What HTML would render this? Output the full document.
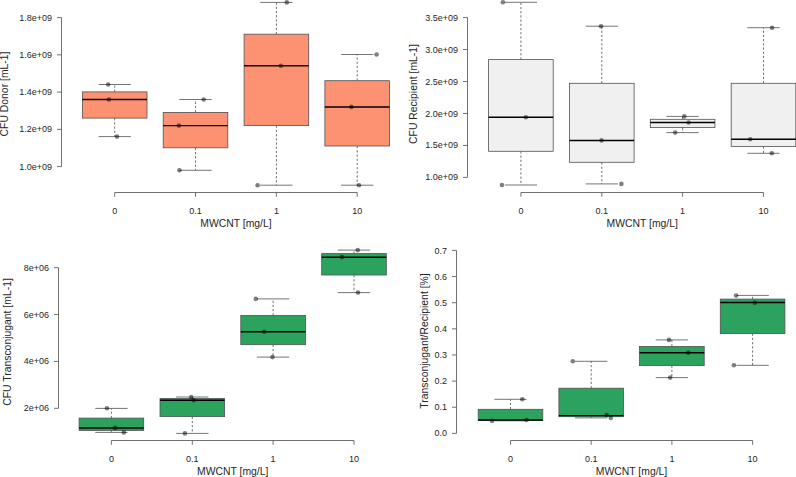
<!DOCTYPE html>
<html lang="en"><head><meta charset="utf-8"><title>MWCNT conjugation boxplots</title>
<style>
html,body{margin:0;padding:0;background:#fff;}
body{width:796px;height:477px;overflow:hidden;}
svg{display:block;}
text{font-family:"Liberation Sans", Arial, Helvetica, sans-serif;fill:#262626;}
.tk{font-size:9.0px;}
.lb{font-size:10.4px;}
.ax{stroke:#4e4e4e;stroke-width:.8;fill:none;}
.bx{stroke:#505050;stroke-width:.8;}
.wh{stroke:#505050;stroke-width:.8;stroke-dasharray:2.3 1.9;fill:none;}
.cap{stroke:#505050;stroke-width:.8;fill:none;}
.med{stroke:#000;stroke-width:1.45;fill:none;}
.pt{fill:#000;fill-opacity:.5;}
</style></head><body>
<svg width="796" height="477" viewBox="0 0 796 477">
<rect x="0" y="0" width="796" height="477" fill="#fff"/>
<g>
<path class="ax" d="M61.5 17.6V166.6M57 17.6H61.5M57 54.85H61.5M57 92.1H61.5M57 129.35H61.5M57 166.6H61.5"/>
<text class="tk" x="52.1" y="20.65" text-anchor="end">1.8e+09</text>
<text class="tk" x="52.1" y="57.9" text-anchor="end">1.6e+09</text>
<text class="tk" x="52.1" y="95.15" text-anchor="end">1.4e+09</text>
<text class="tk" x="52.1" y="132.4" text-anchor="end">1.2e+09</text>
<text class="tk" x="52.1" y="169.65" text-anchor="end">1.0e+09</text>
<path class="ax" d="M114.7 192.5H357.2M114.7 192.5V196.8M195.5 192.5V196.8M276.4 192.5V196.8M357.2 192.5V196.8"/>
<text class="tk" x="114.7" y="213.9" text-anchor="middle">0</text>
<text class="tk" x="195.5" y="213.9" text-anchor="middle">0.1</text>
<text class="tk" x="276.4" y="213.9" text-anchor="middle">1</text>
<text class="tk" x="357.2" y="213.9" text-anchor="middle">10</text>
<text class="lb" x="235.95" y="227.2" text-anchor="middle">MWCNT [mg/L]</text>
<text class="lb" transform="translate(8 94) rotate(-90)" text-anchor="middle">CFU Donor [mL-1]</text>
<path class="wh" d="M114.7 91.9V84.5M114.7 118.1V136.6"/>
<path class="cap" d="M98.55 84.5H130.85M98.55 136.6H130.85"/>
<rect class="bx" x="82.4" y="91.9" width="64.6" height="26.2" fill="#FC9272"/>
<path class="med" d="M82.4 99.5H147"/>
<path class="wh" d="M195.5 112.4V99.5M195.5 147.8V170.3"/>
<path class="cap" d="M179.35 99.5H211.65M179.35 170.3H211.65"/>
<rect class="bx" x="163.2" y="112.4" width="64.6" height="35.4" fill="#FC9272"/>
<path class="med" d="M163.2 125.6H227.8"/>
<path class="wh" d="M276.4 34.2V2.4M276.4 125.6V185.2"/>
<path class="cap" d="M260.25 2.4H292.55M260.25 185.2H292.55"/>
<rect class="bx" x="244.1" y="34.2" width="64.6" height="91.4" fill="#FC9272"/>
<path class="med" d="M244.1 65.8H308.7"/>
<path class="wh" d="M357.2 80.7V54.5M357.2 146V185.2"/>
<path class="cap" d="M341.05 54.5H373.35M341.05 185.2H373.35"/>
<rect class="bx" x="324.9" y="80.7" width="64.6" height="65.3" fill="#FC9272"/>
<path class="med" d="M324.9 106.9H389.5"/>
<circle class="pt" cx="108.2" cy="84.5" r="2.3"/>
<circle class="pt" cx="109" cy="99.5" r="2.3"/>
<circle class="pt" cx="117" cy="136.6" r="2.3"/>
<circle class="pt" cx="203.7" cy="99.5" r="2.3"/>
<circle class="pt" cx="178.9" cy="125.6" r="2.3"/>
<circle class="pt" cx="179.4" cy="170.3" r="2.3"/>
<circle class="pt" cx="286.8" cy="2.4" r="2.3"/>
<circle class="pt" cx="280.8" cy="65.8" r="2.3"/>
<circle class="pt" cx="257.6" cy="185.2" r="2.3"/>
<circle class="pt" cx="376.6" cy="54.5" r="2.3"/>
<circle class="pt" cx="351.4" cy="106.9" r="2.3"/>
<circle class="pt" cx="359" cy="185.2" r="2.3"/>
</g>
<g>
<path class="ax" d="M467.5 17.6V177.4M463 17.6H467.5M463 49.56H467.5M463 81.52H467.5M463 113.48H467.5M463 145.44H467.5M463 177.4H467.5"/>
<text class="tk" x="458.1" y="20.65" text-anchor="end">3.5e+09</text>
<text class="tk" x="458.1" y="52.61" text-anchor="end">3.0e+09</text>
<text class="tk" x="458.1" y="84.57" text-anchor="end">2.5e+09</text>
<text class="tk" x="458.1" y="116.53" text-anchor="end">2.0e+09</text>
<text class="tk" x="458.1" y="148.49" text-anchor="end">1.5e+09</text>
<text class="tk" x="458.1" y="180.45" text-anchor="end">1.0e+09</text>
<path class="ax" d="M520.9 192.5H763.5M520.9 192.5V196.8M601.8 192.5V196.8M682.6 192.5V196.8M763.5 192.5V196.8"/>
<text class="tk" x="520.9" y="213.9" text-anchor="middle">0</text>
<text class="tk" x="601.8" y="213.9" text-anchor="middle">0.1</text>
<text class="tk" x="682.6" y="213.9" text-anchor="middle">1</text>
<text class="tk" x="763.5" y="213.9" text-anchor="middle">10</text>
<text class="lb" x="642.2" y="227.2" text-anchor="middle">MWCNT [mg/L]</text>
<text class="lb" transform="translate(416.9 94) rotate(-90)" text-anchor="middle">CFU Recipient [mL-1]</text>
<path class="wh" d="M520.9 59.6V2.3M520.9 151.3V185"/>
<path class="cap" d="M504.75 2.3H537.05M504.75 185H537.05"/>
<rect class="bx" x="488.6" y="59.6" width="64.6" height="91.7" fill="#F0F0F0"/>
<path class="med" d="M488.6 117.3H553.2"/>
<path class="wh" d="M601.8 83.3V26.2M601.8 162.3V183.9"/>
<path class="cap" d="M585.65 26.2H617.95M585.65 183.9H617.95"/>
<rect class="bx" x="569.5" y="83.3" width="64.6" height="79" fill="#F0F0F0"/>
<path class="med" d="M569.5 140.4H634.1"/>
<path class="wh" d="M682.6 119.3V116.4M682.6 127.6V132.6"/>
<path class="cap" d="M666.45 116.4H698.75M666.45 132.6H698.75"/>
<rect class="bx" x="650.3" y="119.3" width="64.6" height="8.3" fill="#F0F0F0"/>
<path class="med" d="M650.3 122.5H714.9"/>
<path class="wh" d="M763.5 83.3V27.7M763.5 146.5V153.3"/>
<path class="cap" d="M747.35 27.7H779.65M747.35 153.3H779.65"/>
<rect class="bx" x="731.2" y="83.3" width="64.6" height="63.2" fill="#F0F0F0"/>
<path class="med" d="M731.2 139.2H795.8"/>
<circle class="pt" cx="502.9" cy="2.3" r="2.3"/>
<circle class="pt" cx="525.8" cy="117.3" r="2.3"/>
<circle class="pt" cx="501.9" cy="185" r="2.3"/>
<circle class="pt" cx="601" cy="26.2" r="2.3"/>
<circle class="pt" cx="601.5" cy="140.4" r="2.3"/>
<circle class="pt" cx="621.4" cy="183.9" r="2.3"/>
<circle class="pt" cx="684.3" cy="116.4" r="2.3"/>
<circle class="pt" cx="688.6" cy="122.5" r="2.3"/>
<circle class="pt" cx="675.2" cy="132.6" r="2.3"/>
<circle class="pt" cx="772.1" cy="27.7" r="2.3"/>
<circle class="pt" cx="750.2" cy="139.2" r="2.3"/>
<circle class="pt" cx="771.8" cy="153.3" r="2.3"/>
</g>
<g>
<path class="ax" d="M58.5 267.7V408.3M54 267.7H58.5M54 314.57H58.5M54 361.43H58.5M54 408.3H58.5"/>
<text class="tk" x="49.1" y="270.75" text-anchor="end">8e+06</text>
<text class="tk" x="49.1" y="317.62" text-anchor="end">6e+06</text>
<text class="tk" x="49.1" y="364.48" text-anchor="end">4e+06</text>
<text class="tk" x="49.1" y="411.35" text-anchor="end">2e+06</text>
<path class="ax" d="M111.4 440.5H354M111.4 440.5V444.8M192.3 440.5V444.8M273.1 440.5V444.8M354 440.5V444.8"/>
<text class="tk" x="111.4" y="461.8" text-anchor="middle">0</text>
<text class="tk" x="192.3" y="461.8" text-anchor="middle">0.1</text>
<text class="tk" x="273.1" y="461.8" text-anchor="middle">1</text>
<text class="tk" x="354" y="461.8" text-anchor="middle">10</text>
<text class="lb" x="232.7" y="474.8" text-anchor="middle">MWCNT [mg/L]</text>
<text class="lb" transform="translate(11.2 342) rotate(-90)" text-anchor="middle">CFU Transconjugant [mL-1]</text>
<path class="wh" d="M111.4 418.1V408.4M111.4 430.5V432.4"/>
<path class="cap" d="M95.25 408.4H127.55M95.25 432.4H127.55"/>
<rect class="bx" x="79.1" y="418.1" width="64.6" height="12.4" fill="#2CA25F"/>
<path class="med" d="M79.1 427.9H143.7"/>
<path class="wh" d="M192.3 398.6V397M192.3 416.6V433.4"/>
<path class="cap" d="M176.15 397H208.45M176.15 433.4H208.45"/>
<rect class="bx" x="160" y="398.6" width="64.6" height="18" fill="#2CA25F"/>
<path class="med" d="M160 400.3H224.6"/>
<path class="wh" d="M273.1 315.5V298.9M273.1 344.7V357.1"/>
<path class="cap" d="M256.95 298.9H289.25M256.95 357.1H289.25"/>
<rect class="bx" x="240.8" y="315.5" width="64.6" height="29.2" fill="#2CA25F"/>
<path class="med" d="M240.8 331.8H305.4"/>
<path class="wh" d="M354 253.6V250.1M354 275V292.6"/>
<path class="cap" d="M337.85 250.1H370.15M337.85 292.6H370.15"/>
<rect class="bx" x="321.7" y="253.6" width="64.6" height="21.4" fill="#2CA25F"/>
<path class="med" d="M321.7 257.2H386.3"/>
<circle class="pt" cx="106.9" cy="408.3" r="2.3"/>
<circle class="pt" cx="115.2" cy="427.9" r="2.3"/>
<circle class="pt" cx="123.8" cy="432.4" r="2.3"/>
<circle class="pt" cx="191.2" cy="397" r="2.3"/>
<circle class="pt" cx="193.7" cy="400.3" r="2.3"/>
<circle class="pt" cx="184.9" cy="433.4" r="2.3"/>
<circle class="pt" cx="255.8" cy="298.9" r="2.3"/>
<circle class="pt" cx="264.2" cy="331.8" r="2.3"/>
<circle class="pt" cx="272.5" cy="357.1" r="2.3"/>
<circle class="pt" cx="357.7" cy="250.1" r="2.3"/>
<circle class="pt" cx="341.9" cy="257.1" r="2.3"/>
<circle class="pt" cx="358" cy="292.6" r="2.3"/>
</g>
<g>
<path class="ax" d="M456.5 250.45V433.36M452 250.45H456.5M452 276.58H456.5M452 302.71H456.5M452 328.84H456.5M452 354.97H456.5M452 381.1H456.5M452 407.23H456.5M452 433.36H456.5"/>
<text class="tk" x="447.1" y="253.5" text-anchor="end">0.7</text>
<text class="tk" x="447.1" y="279.63" text-anchor="end">0.6</text>
<text class="tk" x="447.1" y="305.76" text-anchor="end">0.5</text>
<text class="tk" x="447.1" y="331.89" text-anchor="end">0.4</text>
<text class="tk" x="447.1" y="358.02" text-anchor="end">0.3</text>
<text class="tk" x="447.1" y="384.15" text-anchor="end">0.2</text>
<text class="tk" x="447.1" y="410.28" text-anchor="end">0.1</text>
<text class="tk" x="447.1" y="436.41" text-anchor="end">0.0</text>
<path class="ax" d="M510.5 440.5H752.6M510.5 440.5V444.8M591.2 440.5V444.8M671.9 440.5V444.8M752.6 440.5V444.8"/>
<text class="tk" x="510.5" y="461.8" text-anchor="middle">0</text>
<text class="tk" x="591.2" y="461.8" text-anchor="middle">0.1</text>
<text class="tk" x="671.9" y="461.8" text-anchor="middle">1</text>
<text class="tk" x="752.6" y="461.8" text-anchor="middle">10</text>
<text class="lb" x="631.55" y="474.8" text-anchor="middle">MWCNT [mg/L]</text>
<text class="lb" transform="translate(428.2 341) rotate(-90)" text-anchor="middle">Transconjugant/Recipient [%]</text>
<path class="wh" d="M510.5 409.3V399.3M510.5 420.6V420.8"/>
<path class="cap" d="M494.35 399.3H526.65M494.35 420.8H526.65"/>
<rect class="bx" x="478.2" y="409.3" width="64.6" height="11.3" fill="#2CA25F"/>
<path class="med" d="M478.2 420H542.8"/>
<path class="wh" d="M591.2 388.2V361.3M591.2 416.7V417.9"/>
<path class="cap" d="M575.05 361.3H607.35M575.05 417.9H607.35"/>
<rect class="bx" x="558.9" y="388.2" width="64.6" height="28.5" fill="#2CA25F"/>
<path class="med" d="M558.9 415.6H623.5"/>
<path class="wh" d="M671.9 346.4V339.9M671.9 365.6V377.6"/>
<path class="cap" d="M655.75 339.9H688.05M655.75 377.6H688.05"/>
<rect class="bx" x="639.6" y="346.4" width="64.6" height="19.2" fill="#2CA25F"/>
<path class="med" d="M639.6 352.7H704.2"/>
<path class="wh" d="M752.6 299.1V295.4M752.6 333.6V365.3"/>
<path class="cap" d="M736.45 295.4H768.75M736.45 365.3H768.75"/>
<rect class="bx" x="720.3" y="299.1" width="64.6" height="34.5" fill="#2CA25F"/>
<path class="med" d="M720.3 302.4H784.9"/>
<circle class="pt" cx="522.3" cy="399.3" r="2.3"/>
<circle class="pt" cx="526.6" cy="420" r="2.3"/>
<circle class="pt" cx="492.1" cy="420.9" r="2.3"/>
<circle class="pt" cx="572.8" cy="361.3" r="2.3"/>
<circle class="pt" cx="606.6" cy="415" r="2.3"/>
<circle class="pt" cx="610.8" cy="418" r="2.3"/>
<circle class="pt" cx="669" cy="339.9" r="2.3"/>
<circle class="pt" cx="688.3" cy="352.7" r="2.3"/>
<circle class="pt" cx="670.2" cy="377.6" r="2.3"/>
<circle class="pt" cx="736.1" cy="295.6" r="2.3"/>
<circle class="pt" cx="754.7" cy="302.7" r="2.3"/>
<circle class="pt" cx="733.9" cy="365.3" r="2.3"/>
</g>
</svg>
</body></html>
